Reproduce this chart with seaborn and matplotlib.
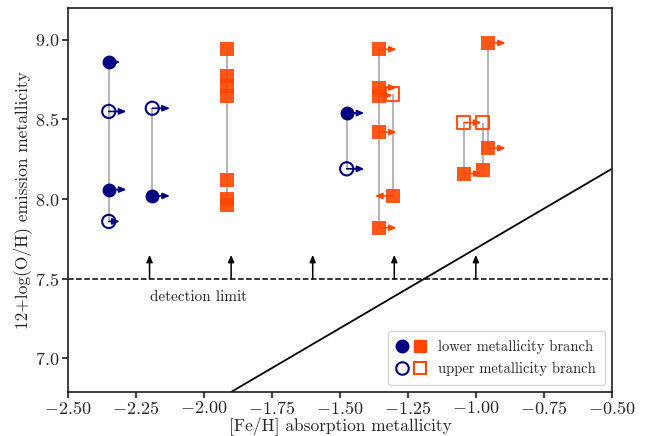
import pandas as pd
import matplotlib
matplotlib.use('Agg')
import matplotlib.pyplot as plt
import seaborn as sns
from matplotlib.lines import Line2D
from matplotlib.legend_handler import HandlerTuple

NAVY = '#000080'
ORANGE = '#ff4500'

# emission vs absorption metallicities, one row per measurement
feh = [-2.35, -2.35, -2.35, -2.35,
       -2.19, -2.19,
       -1.475, -1.475,
       -1.915, -1.915, -1.915, -1.915, -1.915, -1.915, -1.915,
       -1.356, -1.356, -1.356, -1.356, -1.356,
       -1.306, -1.306,
       -1.044, -1.044,
       -0.975, -0.975,
       -0.955, -0.955]
oh = [8.86, 8.55, 8.06, 7.86,
      8.57, 8.02,
      8.54, 8.19,
      8.94, 8.77, 8.71, 8.65, 8.12, 8.00, 7.96,
      8.94, 8.70, 8.65, 8.42, 7.82,
      8.66, 8.02,
      8.48, 8.16,
      8.48, 8.18,
      8.98, 8.32]
galaxy = [1, 1, 1, 1, 2, 2, 4, 4, 3, 3, 3, 3, 3, 3, 3,
          5, 5, 5, 5, 5, 6, 6, 7, 7, 8, 8, 9, 9]
shape = ['o'] * 8 + ['s'] * 20
branch = ['lower', 'upper', 'lower', 'upper',
          'upper', 'lower',
          'lower', 'upper',
          'lower'] + ['lower'] * 6 + ['lower'] * 5 + \
         ['upper', 'lower', 'upper', 'lower', 'upper', 'lower', 'lower', 'lower']
# horizontal limit arrows (length in dex, negative = points left)
arrow = [0.042, 0.065, 0.065, 0.04,
         0.065, 0.065,
         0.065, 0.065,
         0, 0, 0, 0, 0, 0, 0,
         0.065, 0.065, 0.05, 0.065, 0.065,
         0, -0.065,
         0.065, 0.065,
         0, 0,
         0.065, 0.065]

limit_x = [-2.2, -1.9, -1.6, -1.3, -1.0]
detection_limit = 7.5
solar_oh = 8.69

df = pd.DataFrame({'feh': feh, 'oh': oh, 'galaxy': galaxy, 'shape': shape,
                   'branch': branch, 'arrow': arrow})
df['color'] = df['shape'].map({'o': NAVY, 's': ORANGE})

sns.set_theme(style='ticks')
plt.rcParams['font.family'] = 'serif'
plt.rcParams['font.serif'] = ['cmr10']
plt.rcParams['mathtext.fontset'] = 'cm'
plt.rcParams['axes.formatter.use_mathtext'] = True

fig, ax = plt.subplots(figsize=(6.6, 4.36), dpi=100)
fig.subplots_adjust(left=0.103, right=0.927, top=0.982, bottom=0.101)

# vertical connectors per galaxy
span = df.groupby('galaxy')['oh'].agg(['min', 'max']).join(df.groupby('galaxy')['feh'].mean())
ax.vlines(span['feh'], span['min'], span['max'], color='#a0a0a0', lw=1.1, zorder=1)

# arrows
head = '-|>,head_length=0.35,head_width=0.15'
for _, r in df[df['arrow'] != 0].iterrows():
    ax.annotate('', xy=(r['feh'] + r['arrow'], r['oh']), xytext=(r['feh'], r['oh']),
                arrowprops=dict(arrowstyle=head, color=r['color'], lw=1.2,
                                shrinkA=0, shrinkB=0),
                zorder=2)

for shp, col in [('o', NAVY), ('s', ORANGE)]:
    sub = df[(df['shape'] == shp) & (df['branch'] == 'lower')]
    sns.scatterplot(data=sub, x='feh', y='oh', marker=shp, color=col, s=100,
                    edgecolor=col, linewidth=0, alpha=0.9 if shp == 's' else 1,
                    ax=ax, zorder=3)
    sub = df[(df['shape'] == shp) & (df['branch'] == 'upper')]
    ax.scatter(sub['feh'], sub['oh'], marker=shp, s=90, facecolors='none',
               edgecolors=col, linewidths=1.5, alpha=0.9 if shp == 's' else 1, zorder=3)

# detection limit
ax.axhline(detection_limit, color='black', ls='--', lw=1.1)
for x in limit_x:
    ax.annotate('', xy=(x, detection_limit + 0.15), xytext=(x, detection_limit),
                arrowprops=dict(arrowstyle=head, color='black', lw=1.1,
                                shrinkA=0, shrinkB=0))
ax.text(-2.2, 7.385, 'detection limit', fontsize=11, va='center')

# 1:1 relation shifted by solar oxygen abundance
line_x = pd.Series([-2.5, -0.5])
sns.lineplot(x=line_x, y=line_x + solar_oh, color='black', lw=1.3, ax=ax)

ax.set_xlim(-2.5, -0.5)
ax.set_ylim(6.79, 9.2)
ax.set_xticks([-2.5, -2.25, -2.0, -1.75, -1.5, -1.25, -1.0, -0.75, -0.5])
ax.set_yticks([7.0, 7.5, 8.0, 8.5, 9.0])
ax.xaxis.set_major_formatter(matplotlib.ticker.FormatStrFormatter('$%.2f$'))
ax.yaxis.set_major_formatter(matplotlib.ticker.FormatStrFormatter('$%.1f$'))
ax.tick_params(labelsize=13, pad=2, length=4)
ax.set_xlabel('[Fe/H] absorption metallicity', fontsize=12.5, labelpad=-1)
ax.set_ylabel('12+log(O/H) emission metallicity', fontsize=12.5, labelpad=2)
for s in ax.spines.values():
    s.set_visible(True)

h_low = (Line2D([], [], marker='o', ls='', color=NAVY, ms=9),
         Line2D([], [], marker='s', ls='', color=ORANGE, ms=9))
h_up = (Line2D([], [], marker='o', ls='', mfc='none', mec=NAVY, mew=1.5, ms=9),
        Line2D([], [], marker='s', ls='', mfc='none', mec=ORANGE, mew=1.5, ms=9))
ax.legend([h_low, h_up], ['lower metallicity branch', 'upper metallicity branch'],
          handler_map={tuple: HandlerTuple(ndivide=None, pad=0.5)},
          loc='lower right', fontsize=10.5, handlelength=1.9, handletextpad=0.9,
          borderpad=0.6)

fig.savefig('out.png', dpi=100)
